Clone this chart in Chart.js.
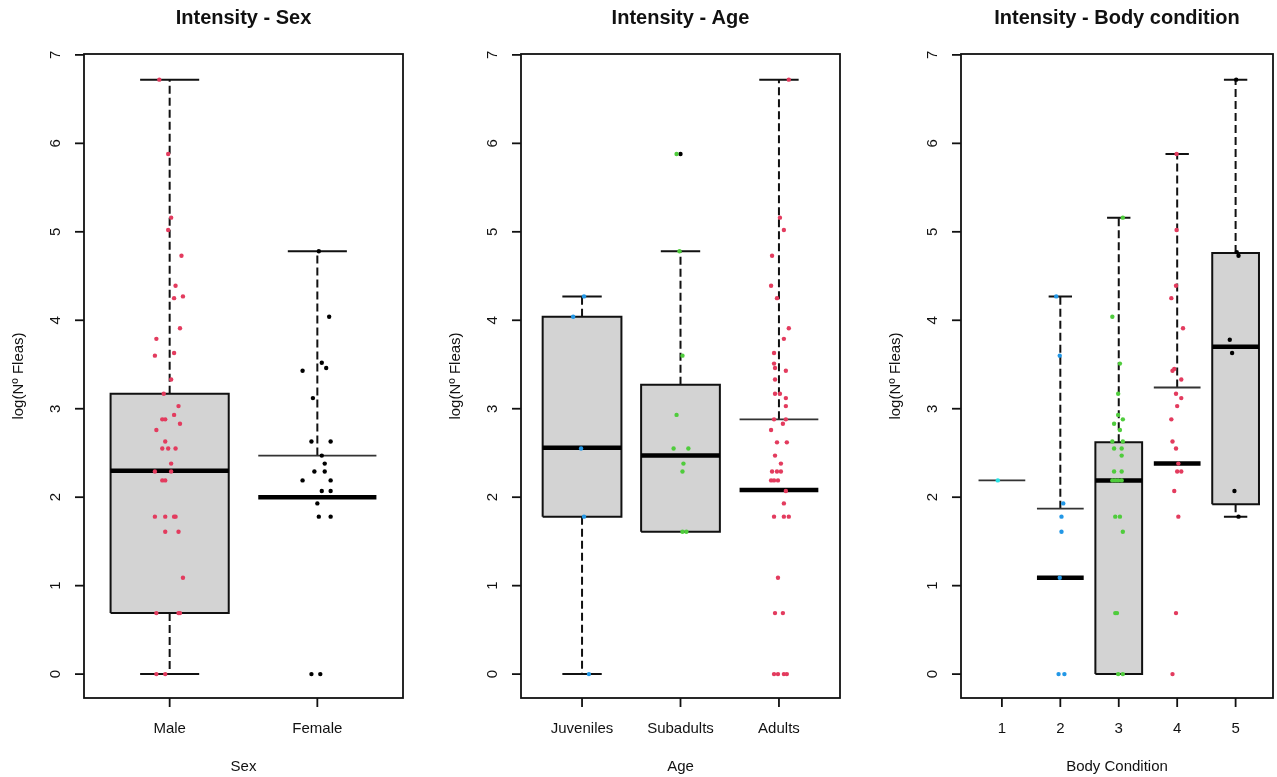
<!DOCTYPE html>
<html>
<head>
<meta charset="utf-8">
<script src="https://cdn.jsdelivr.net/npm/chart.js@4.4.1/dist/chart.umd.min.js"></script>
<style>
  html, body { margin: 0; padding: 0; background: #fff; overflow: hidden; }
  .panel { position: absolute; top: 0; }
</style>
</head>
<body>
<canvas id="sexChart" class="panel" style="left:0px" width="426" height="777"></canvas>
<canvas id="ageChart" class="panel" style="left:426px" width="426" height="777"></canvas>
<canvas id="bodyChart" class="panel" style="left:851px" width="426" height="777"></canvas>
<script>
// ---- shared y axis ----
const yTicks = [0, 1, 2, 3, 4, 5, 6, 7];

// ---- Intensity - Sex ----
const sexLabels = ['Male', 'Female'];
const sexLowHinge = [0.69, null];      // null: no box drawn
const sexMedian = [2.30, 2.00];
const sexHighHinge = [3.17, 2.47];
const sexLowWhisker = [0, null];
const sexHighWhisker = [6.72, 4.78];
const sexOutliers = [[], []];

const maleY = [6.72, 5.88, 5.16, 5.02, 4.73, 4.39, 4.25, 4.27, 3.91, 3.79, 3.63, 3.60, 3.33, 3.17, 3.03,
  2.88, 2.88, 2.93, 2.83, 2.76, 2.63, 2.55, 2.55, 2.55, 2.38, 2.29, 2.29, 2.19, 2.19,
  1.78, 1.78, 1.78, 1.78, 1.61, 1.61, 1.09, 0.69, 0.69, 0.69, 0, 0];
const maleJitter = [-0.07, -0.01, 0.01, -0.01, 0.08, 0.04, 0.03, 0.09, 0.07, -0.09, 0.03, -0.10, 0.01, -0.04, 0.06,
  -0.05, -0.03, 0.03, 0.07, -0.09, -0.03, -0.05, -0.01, 0.04, 0.01, -0.10, 0.01, -0.05, -0.03,
  -0.10, -0.03, 0.03, 0.04, -0.03, 0.06, 0.09, -0.09, 0.06, 0.07, -0.09, -0.03];
const femaleY = [4.78, 4.04, 3.52, 3.46, 3.43, 3.12, 2.63, 2.63, 2.47, 2.38, 2.29, 2.29, 2.19, 2.19,
  2.07, 2.07, 1.93, 1.78, 1.78, 0, 0];
const femaleJitter = [0.01, 0.08, 0.03, 0.06, -0.10, -0.03, -0.04, 0.09, 0.03, 0.05, -0.02, 0.05, -0.10, 0.09,
  0.03, 0.09, 0, 0.01, 0.09, -0.04, 0.02];

// ---- Intensity - Age ----
const ageLabels = ['Juveniles', 'Subadults', 'Adults'];
const ageLowHinge = [1.78, 1.61, null];
const ageMedian = [2.56, 2.47, 2.08];
const ageHighHinge = [4.04, 3.27, 2.88];
const ageLowWhisker = [0, null, null];
const ageHighWhisker = [4.27, 4.78, 6.72];
const ageOutliers = [[], [5.88], []];

const juvenileY = [4.27, 4.04, 2.55, 1.78, 0];
const juvenileJitter = [0.02, -0.09, -0.01, 0.02, 0.07];
const subadultY = [5.88, 4.78, 3.60, 2.93, 2.55, 2.55, 2.38, 2.29, 1.61, 1.61];
const subadultJitter = [-0.04, -0.01, 0.02, -0.04, -0.07, 0.08, 0.03, 0.02, 0.02, 0.06];
const adultY = [6.72, 5.16, 5.02, 4.73, 4.39, 4.25, 3.91, 3.79, 3.63, 3.51, 3.46, 3.43, 3.33, 3.17, 3.17,
  3.12, 3.03, 2.88, 2.88, 2.83, 2.76, 2.62, 2.62, 2.47, 2.38, 2.29, 2.29, 2.29, 2.19, 2.19, 2.19,
  2.07, 1.93, 1.78, 1.78, 1.78, 1.09, 0.69, 0.69, 0, 0, 0, 0];
const adultJitter = [0.10, 0.01, 0.05, -0.07, -0.08, -0.02, 0.10, 0.05, -0.05, -0.05, -0.04, 0.07, -0.04, -0.04, 0.01,
  0.07, 0.07, -0.05, 0.07, 0.04, -0.08, -0.02, 0.08, -0.04, 0.02, -0.07, -0.02, 0.02, -0.08, -0.05, -0.01,
  0.07, 0.05, -0.05, 0.05, 0.10, -0.01, -0.04, 0.04, -0.05, -0.01, 0.05, 0.08];

// ---- Intensity - Body condition ----
const bodyLabels = ['1', '2', '3', '4', '5'];
const bodyLowHinge = [null, null, 0, null, 1.92];
const bodyMedian = [null, 1.09, 2.19, 2.38, 3.70];
const bodyHighHinge = [2.19, 1.87, 2.62, 3.24, 4.76];
const bodyLowWhisker = [null, null, null, null, 1.78];
const bodyHighWhisker = [null, 4.27, 5.16, 5.88, 6.72];
const bodyOutliers = [[], [], [], [], []];

const body1Y = [2.19];
const body1Jitter = [-0.07];
const body2Y = [4.27, 3.60, 1.93, 1.78, 1.61, 1.09, 0, 0];
const body2Jitter = [-0.07, -0.01, 0.05, 0.02, 0.02, -0.01, -0.03, 0.07];
const body3Y = [5.16, 4.04, 3.51, 3.17, 2.93, 2.88, 2.83, 2.76, 2.63, 2.63, 2.55, 2.55, 2.47, 2.29, 2.29,
  2.19, 2.19, 2.19, 2.19, 1.78, 1.78, 1.61, 0.69, 0.69, 0, 0];
const body3Jitter = [0.07, -0.11, 0.02, -0.01, -0.01, 0.07, -0.08, 0.02, -0.11, 0.07, -0.08, 0.05, 0.05, -0.08, 0.05,
  -0.11, -0.06, -0.01, 0.05, -0.06, 0.02, 0.07, -0.06, -0.03, -0.01, 0.07];
const body4Y = [5.88, 5.02, 4.39, 4.25, 3.91, 3.45, 3.43, 3.33, 3.17, 3.12, 3.03, 2.88, 2.63, 2.55, 2.38,
  2.29, 2.29, 2.07, 1.78, 0.69, 0];
const body4Jitter = [-0.01, -0.01, -0.02, -0.10, 0.10, -0.05, -0.08, 0.07, -0.02, 0.07, 0, -0.10, -0.08, -0.02, 0.02,
  0, 0.07, -0.05, 0.02, -0.02, -0.08];
const body5Y = [6.72, 4.77, 4.73, 3.78, 3.63, 2.07, 1.78];
const body5Jitter = [0.01, 0.02, 0.05, -0.10, -0.06, -0.02, 0.05];

const red = '#E33B5E', black = '#000000', blue = '#2297E6', green = '#4FCC3C', cyan = '#28E2E5';

function boxDatasets(labels, lowHinge, median, highHinge, lowWhisker, highWhisker, outliers) {
  const sets = [];
  const medians = [], hinges = [], caps = [], whiskers = [], outs = [];
  labels.forEach((lab, i) => {
    const c = i + 1;
    if (lowHinge[i] !== null) {
      sets.push({
        data: [{x: c - 0.4, y: lowHinge[i]}, {x: c + 0.4, y: lowHinge[i]}, {x: c + 0.4, y: highHinge[i]},
               {x: c - 0.4, y: highHinge[i]}, {x: c - 0.4, y: lowHinge[i]}],
        showLine: true, borderColor: '#111', borderWidth: 2, backgroundColor: '#d3d3d3',
        fill: 'shape', pointRadius: 0, order: 6
      });
    } else {
      hinges.push({x: c - 0.4, y: highHinge[i]}, {x: c + 0.4, y: highHinge[i]}, {x: c, y: null});
    }
    if (median[i] !== null) {
      medians.push({x: c - 0.4, y: median[i]}, {x: c + 0.4, y: median[i]}, {x: c, y: null});
    }
    if (highWhisker[i] !== null) {
      whiskers.push({x: c, y: highHinge[i]}, {x: c, y: highWhisker[i]}, {x: c, y: null});
      caps.push({x: c - 0.2, y: highWhisker[i]}, {x: c + 0.2, y: highWhisker[i]}, {x: c, y: null});
    }
    if (lowWhisker[i] !== null) {
      whiskers.push({x: c, y: lowHinge[i]}, {x: c, y: lowWhisker[i]}, {x: c, y: null});
      caps.push({x: c - 0.2, y: lowWhisker[i]}, {x: c + 0.2, y: lowWhisker[i]}, {x: c, y: null});
    }
    outliers[i].forEach(v => outs.push({x: c, y: v}));
  });
  sets.push({data: whiskers, showLine: true, borderColor: '#111', borderWidth: 2, borderDash: [8, 4], pointRadius: 0, order: 5});
  sets.push({data: caps, showLine: true, borderColor: '#111', borderWidth: 2, pointRadius: 0, order: 4});
  sets.push({data: hinges, showLine: true, borderColor: '#333', borderWidth: 1.8, pointRadius: 0, order: 3});
  sets.push({data: medians, showLine: true, borderColor: '#000', borderWidth: 4.5, pointRadius: 0, order: 2});
  sets.push({data: outs, pointRadius: 2.2, pointBackgroundColor: '#000', pointBorderWidth: 0, order: 1});
  return sets;
}

function pointDataset(pos, ys, jitter, color) {
  return {
    data: ys.map((v, i) => ({x: pos + jitter[i], y: v})),
    pointRadius: 2.2, pointBackgroundColor: color, pointBorderWidth: 0, order: 0
  };
}

const rStyle = {
  id: 'rStyle',
  afterDraw(chart, args, opts) {
    const {ctx, chartArea: a, scales: {x, y}} = chart;
    const font = '"Liberation Sans", Arial, sans-serif';
    ctx.save();
    ctx.strokeStyle = '#111';
    ctx.lineWidth = 1.8;
    ctx.strokeRect(a.left, a.top, a.right - a.left, a.bottom - a.top);
    ctx.fillStyle = '#111';
    ctx.font = '15px ' + font;
    ctx.textAlign = 'center';
    ctx.textBaseline = 'middle';
    // y axis ticks, rotated labels as in base R
    yTicks.forEach(t => {
      const py = y.getPixelForValue(t);
      ctx.beginPath();
      ctx.moveTo(a.left - 9, py);
      ctx.lineTo(a.left, py);
      ctx.stroke();
      ctx.save();
      ctx.translate(a.left - 28, py);
      ctx.rotate(-Math.PI / 2);
      ctx.fillText(String(t), 0, 0);
      ctx.restore();
    });
    // x axis ticks and group names
    opts.labels.forEach((lab, i) => {
      const px = x.getPixelForValue(i + 1);
      ctx.beginPath();
      ctx.moveTo(px, a.bottom);
      ctx.lineTo(px, a.bottom + 9);
      ctx.stroke();
      ctx.fillText(lab, px, 729);
    });
    const cx = (a.left + a.right) / 2;
    ctx.fillText(opts.xTitle, cx, 767);
    ctx.save();
    ctx.translate(a.left - 65, (a.top + a.bottom) / 2);
    ctx.rotate(-Math.PI / 2);
    ctx.fillText('log(Nº Fleas)', 0, 0);
    ctx.restore();
    ctx.font = 'bold 20px ' + font;
    ctx.fillText(opts.title, cx, 18);
    ctx.restore();
  }
};

function makeChart(id, xMin, xMax, pad, datasets, title, xTitle, labels) {
  return new Chart(document.getElementById(id), {
    type: 'scatter',
    data: {datasets: datasets},
    options: {
      responsive: false,
      animation: false,
      devicePixelRatio: 1,
      layout: {padding: pad},
      plugins: {
        legend: {display: false},
        tooltip: {enabled: false},
        rStyle: {title: title, xTitle: xTitle, labels: labels}
      },
      scales: {
        x: {type: 'linear', min: xMin, max: xMax, display: false},
        y: {type: 'linear', min: -0.27, max: 7.01, display: false}
      }
    },
    plugins: [rStyle]
  });
}

makeChart('sexChart', 0.42, 2.58, {left: 84, right: 23, top: 54, bottom: 79},
  [pointDataset(1, maleY, maleJitter, red), pointDataset(2, femaleY, femaleJitter, black)]
    .concat(boxDatasets(sexLabels, sexLowHinge, sexMedian, sexHighHinge, sexLowWhisker, sexHighWhisker, sexOutliers)),
  'Intensity - Sex', 'Sex', sexLabels);

makeChart('ageChart', 0.38, 3.62, {left: 95, right: 12, top: 54, bottom: 79},
  [pointDataset(1, juvenileY, juvenileJitter, blue), pointDataset(2, subadultY, subadultJitter, green),
   pointDataset(3, adultY, adultJitter, red)]
    .concat(boxDatasets(ageLabels, ageLowHinge, ageMedian, ageHighHinge, ageLowWhisker, ageHighWhisker, ageOutliers)),
  'Intensity - Age', 'Age', ageLabels);

makeChart('bodyChart', 0.3, 5.64, {left: 110, right: 1, top: 54, bottom: 79},
  [pointDataset(1, body1Y, body1Jitter, cyan), pointDataset(2, body2Y, body2Jitter, blue),
   pointDataset(3, body3Y, body3Jitter, green), pointDataset(4, body4Y, body4Jitter, red),
   pointDataset(5, body5Y, body5Jitter, black)]
    .concat(boxDatasets(bodyLabels, bodyLowHinge, bodyMedian, bodyHighHinge, bodyLowWhisker, bodyHighWhisker, bodyOutliers)),
  'Intensity - Body condition', 'Body Condition', bodyLabels);
</script>
</body>
</html>
